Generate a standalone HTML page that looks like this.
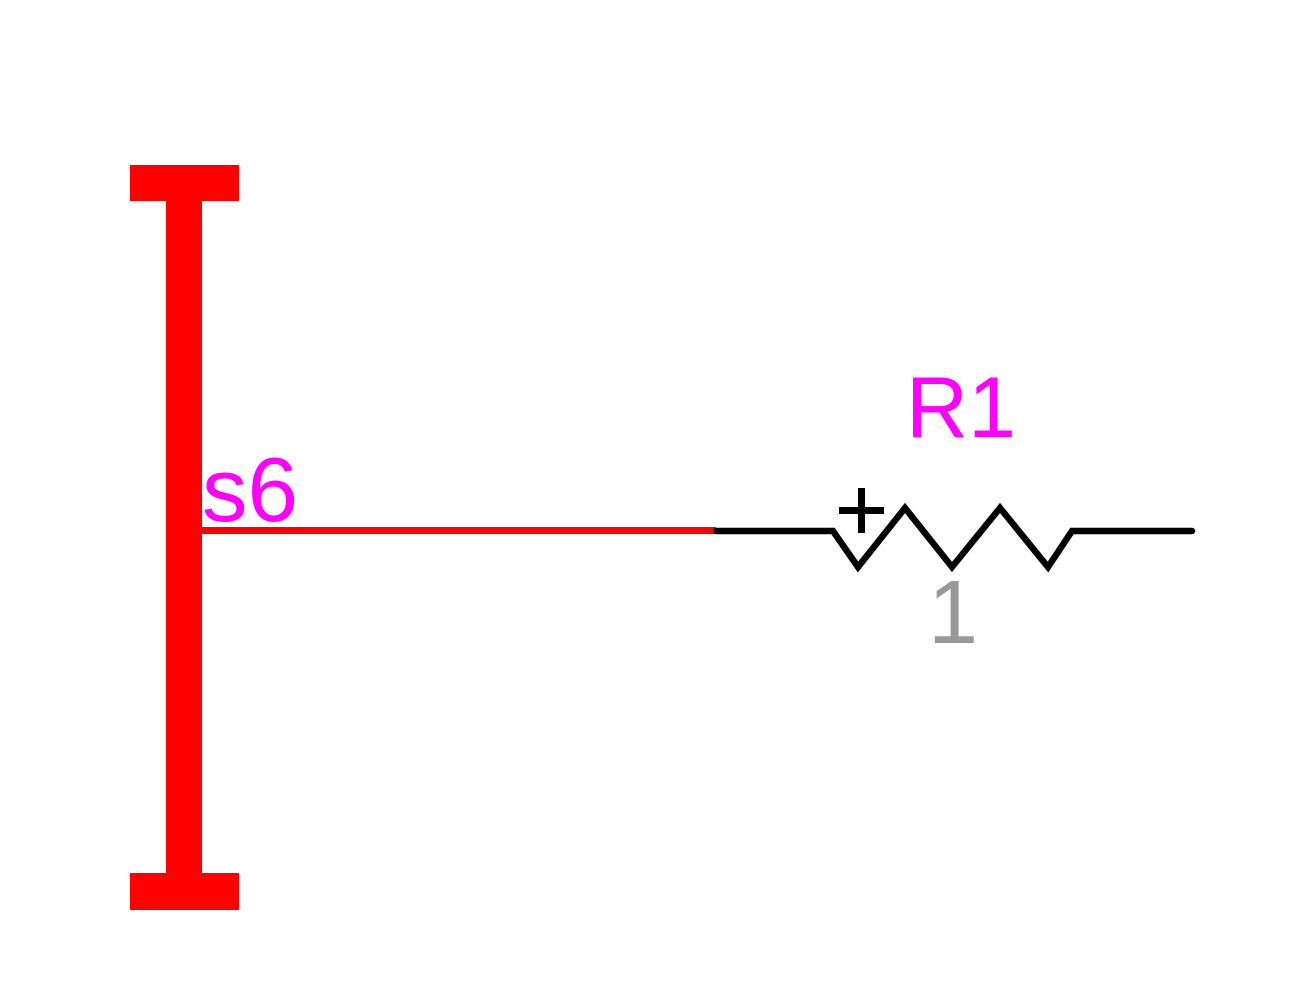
<!DOCTYPE html>
<html><head><style>html,body{margin:0;padding:0;background:#fff;}svg{display:block}</style></head>
<body>
<svg width="1308" height="1005" viewBox="0 0 1308 1005" xmlns="http://www.w3.org/2000/svg">
<rect x="166" y="165" width="36" height="745" fill="#ff0000"/>
<rect x="130" y="165" width="109" height="36" fill="#ff0000"/>
<rect x="130" y="873" width="109" height="37" fill="#ff0000"/>
<rect x="202" y="527" width="514" height="7" fill="#ff0000"/>
<polyline points="716,531 833,531 858,567 905,508 952,567 1000,508 1048,567 1072,531 1192,531" fill="none" stroke="#000" stroke-width="6.5" stroke-linecap="round" stroke-linejoin="miter"/>
<text x="202" y="521" font-family="Liberation Sans, sans-serif" font-size="91" fill="#ff00ff">s6</text>
<text x="906" y="437" font-family="Liberation Sans, sans-serif" font-size="86" fill="#ff00ff">R1</text>
<text x="928" y="643" font-family="Liberation Sans, sans-serif" font-size="90" fill="#999999">1</text>
<rect x="839" y="507" width="45" height="7" fill="#000"/>
<rect x="858" y="488" width="7" height="45" fill="#000"/>
</svg>
</body></html>
